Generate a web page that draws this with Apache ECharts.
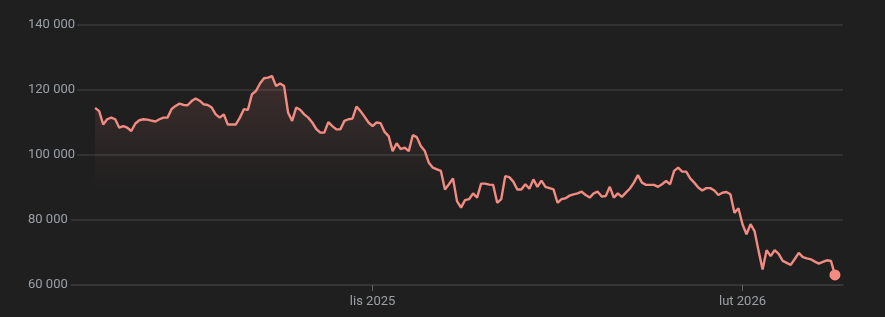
<!DOCTYPE html>
<html>
<head>
<meta charset="utf-8">
<script src="https://cdn.jsdelivr.net/npm/echarts@6/dist/echarts.min.js"></script>
<style>
  html, body { margin: 0; padding: 0; background: #1f1f1f; }
  #chart { width: 885px; height: 317px; }
</style>
</head>
<body>
<div id="chart"></div>
<script>
// ---- data ----
const startDate = '2025-08-24'; // first daily observation
const prices = [
  114500, 113500, 109400, 111000, 111500, 111000, 108400, 108900, 108400, 107400,
  109700, 110700, 111000, 110900, 110600, 110300, 111000, 111500, 111500, 114100,
  115100, 115800, 115400, 115300, 116600, 117400, 116700, 115600, 115400, 114600,
  112500, 111500, 112500, 109400, 109400, 109400, 111500, 114100, 113900, 118700,
  119700, 122000, 123600, 123800, 124300, 121200, 122000, 121200, 113000, 110500,
  114600, 113900, 112500, 111500, 110000, 108000, 106900, 106900, 110100, 108900,
  107900, 107900, 110500, 111000, 111200, 114900, 113500, 111800, 110000, 108900,
  110000, 109800, 107100, 105800, 101200, 103600, 101800, 102300, 101200, 106100,
  105500, 102800, 101200, 97600, 96100, 95600, 95100, 89400, 91000, 92800,
  85800, 83800, 86100, 86400, 88200, 86900, 91200, 91200, 90900, 90800,
  85300, 86400, 93500, 93200, 91800, 89400, 89400, 91000, 89600, 92500,
  90200, 92100, 90200, 89800, 89400, 85300, 86400, 86700, 87500, 87900,
  88200, 88700, 87700, 86900, 88200, 88700, 87200, 87400, 90200, 86900,
  88200, 87100, 88400, 89700, 91500, 93800, 91500, 90800, 90800, 90800,
  90200, 91000, 92000, 91000, 95100, 96100, 94900, 94900, 92800, 91500,
  90000, 89100, 89800, 89800, 89100, 87700, 88400, 88600, 87900, 82200,
  83600, 78700, 75600, 78700, 76600, 70500, 64800, 70700, 68900, 70700,
  69600, 67400, 66800, 66200, 68000, 69900, 68600, 68200, 67900, 67200,
  66600, 67100, 67600, 67400, 63100
];
const xTickDates = ['2025-11-01', '2026-02-01'];
const xTickLabels = ['lis 2025', 'lut 2026'];
const yTicks = [60000, 80000, 100000, 120000, 140000];
const axisMinDate = '2025-08-18T00:00:00';
const axisMaxDate = '2026-02-26T00:00:00';

// ---- build series ----
const DAY = 86400000;
const t0 = new Date(startDate + 'T00:00:00').getTime();
const dates = prices.map((_, i) => t0 + i * DAY);
const seriesData = prices.map((v, i) => [dates[i], v]);
const last = seriesData[seriesData.length - 1];
const tickTimes = xTickDates.map(d => new Date(d + 'T00:00:00').getTime());

function fmtNum(v) {
  return String(v).replace(/\B(?=(\d{3})+(?!\d))/g, ' ');
}

const lineColor = '#f28b82';
const textColor = '#9aa0a6';
const gridColor = '#3a3a3a';

const chart = echarts.init(document.getElementById('chart'), null, { renderer: 'canvas' });
chart.setOption({
  backgroundColor: '#1f1f1f',
  animation: false,
  grid: { left: 71, right: 42, top: 25, bottom: 32, containLabel: false },
  xAxis: {
    type: 'value',
    min: new Date(axisMinDate).getTime(),
    max: new Date(axisMaxDate).getTime(),
    axisLine: { show: true, lineStyle: { color: gridColor, width: 1.5 } },
    axisTick: {
      show: true, length: 6, inside: false,
      customValues: tickTimes,
      lineStyle: { color: '#5f6368', width: 1 }
    },
    axisLabel: {
      customValues: tickTimes,
      color: textColor,
      fontFamily: 'Roboto, Arial, sans-serif',
      fontSize: 13,
      margin: 10,
      formatter: function (val) {
        const idx = tickTimes.indexOf(val);
        return idx >= 0 ? xTickLabels[idx] : '';
      }
    },
    splitLine: { show: false }
  },
  yAxis: {
    type: 'value',
    min: yTicks[0],
    max: yTicks[yTicks.length - 1],
    interval: 20000,
    axisLine: { show: false },
    axisTick: { show: false },
    axisLabel: {
      color: textColor,
      fontFamily: 'Roboto, Arial, sans-serif',
      fontSize: 13,
      align: 'left',
      margin: 43,
      backgroundColor: '#1f1f1f',
      padding: [0, 2, 0, 0],
      formatter: function (v) { return fmtNum(v); }
    },
    splitLine: { show: true, lineStyle: { color: gridColor, width: 1.5 } }
  },
  series: [
    {
      type: 'line',
      data: seriesData,
      showSymbol: false,
      symbol: 'none',
      lineStyle: { color: lineColor, width: 2.4 },
      areaStyle: {
        color: new echarts.graphic.LinearGradient(0, 0, 0, 1, [
          { offset: 0, color: 'rgba(242,139,130,0.20)' },
          { offset: 0.55, color: 'rgba(242,139,130,0)' },
          { offset: 1, color: 'rgba(242,139,130,0)' }
        ])
      },
      z: 2
    },
    {
      type: 'scatter',
      data: [last],
      symbol: 'circle',
      symbolSize: 11,
      itemStyle: { color: lineColor, opacity: 1 },
      z: 3
    }
  ]
});
</script>
</body>
</html>
